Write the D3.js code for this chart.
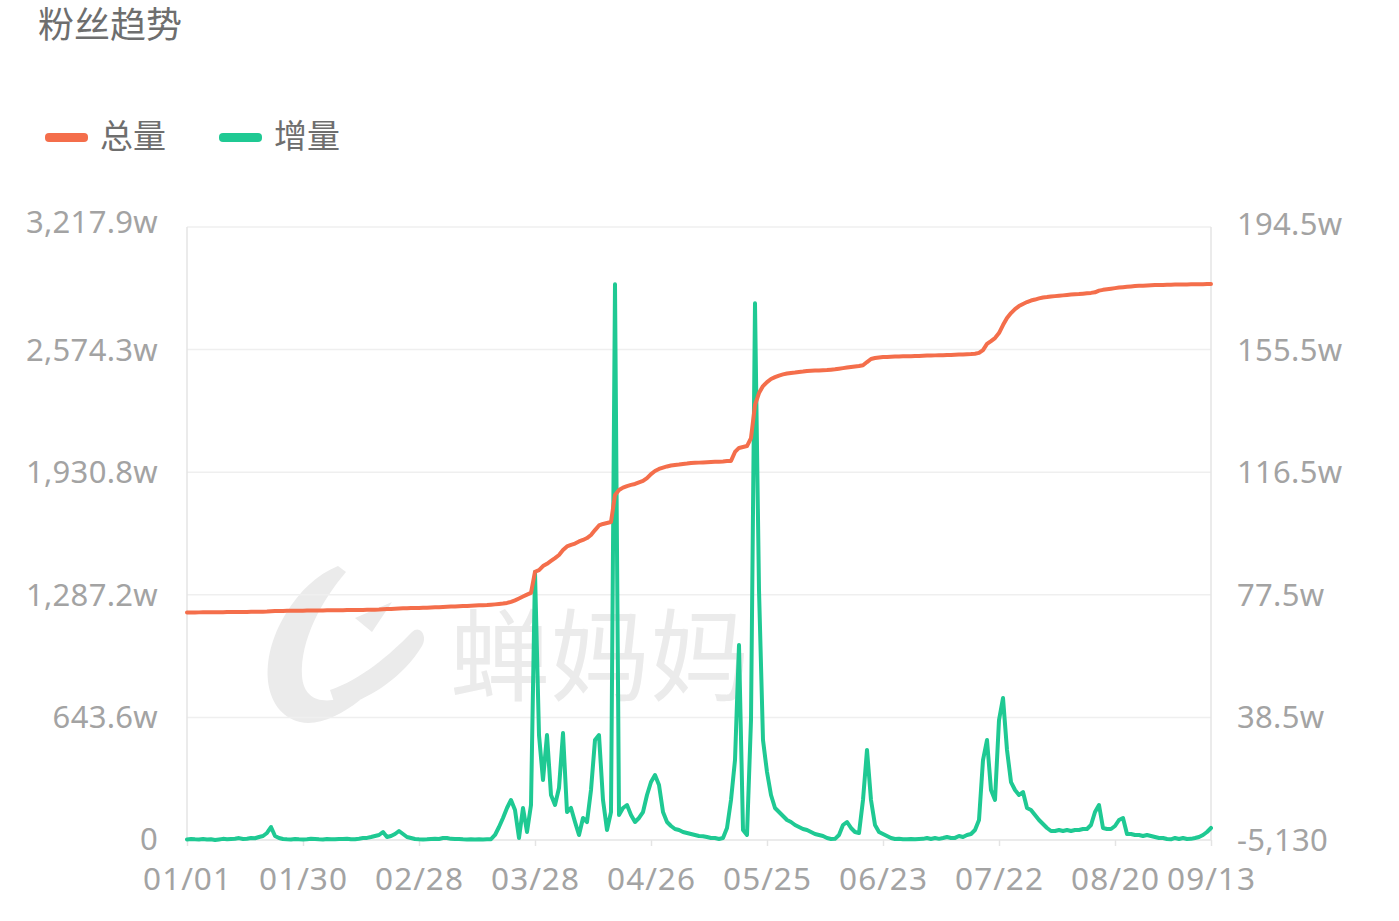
<!DOCTYPE html>
<html><head><meta charset="utf-8">
<script src="https://cdn.jsdelivr.net/npm/d3@7/dist/d3.min.js"></script>
<style>html,body{margin:0;padding:0;background:#fff;} svg{display:block;}</style>
</head><body><svg id="chart" width="1399" height="921"></svg>
<script>
// ---- data (values in 万 / w) ----
const startDate = "2024-01-01";
const endDate = "2024-09-13";
const seriesNames = ["总量", "增量"];
const xTickLabels = ["01/01","01/30","02/28","03/28","04/26","05/25","06/23","07/22","08/20","09/13"];
const leftTickValues = [0, 643.58, 1287.16, 1930.74, 2574.32, 3217.9];
const leftTickLabels = ["0","643.6w","1,287.2w","1,930.8w","2,574.3w","3,217.9w"];
const rightTickValues = [-0.513, 38.487, 77.487, 116.487, 155.487, 194.487];
const rightTickLabels = ["-5,130","38.5w","77.5w","116.5w","155.5w","194.5w"];

const totalFans = [
1194.2,1194.5,1194.6,1194.9,1195.1,1195.3,1195.4,1195.8,1196.0,1196.1,1196.4,
1196.6,1196.9,1197.0,1197.3,1197.5,1197.8,1198.0,1198.3,1198.5,1198.9,
1201.0,1202.1,1202.4,1202.7,1203.0,1203.2,1203.5,1203.7,1204.0,1204.2,
1204.5,1204.7,1205.0,1205.2,1205.5,1205.7,1206.0,1206.2,1206.5,1206.8,
1207.0,1207.3,1207.6,1207.9,1208.1,1208.4,1208.8,1209.6,1211.0,1212.2,
1212.9,1213.8,1215.1,1216.0,1216.8,1217.3,1217.7,1218.1,1218.6,1219.1,
1220.2,1221.3,1222.4,1223.5,1224.5,1225.4,1226.3,1227.2,1228.1,1229.0,
1229.9,1230.8,1231.7,1232.6,1233.5,1235.0,1236.9,1238.8,1241.0,1244.5,
1250,1258,1268,1278,1288,1297,1408,1417,1438,1450,
1465,1480,1496,1522,1541,1549,1556,1567,1575,1585,
1601,1627,1651,1659,1664,1669,1811,1837,1850,1858,
1864,1869,1877,1885,1900,1921,1937,1948,1955,1961,
1966,1969,1971,1974,1976,1979,1980,1981,1982,1983,
1984,1985,1986,1987,1989,1990,2037,2058,2063,2068,
2110,2284,2346,2383,2404,2420,2430,2438,2444,2449,
2452,2454,2457,2459,2462,2463,2464,2465,2466,2467,
2469,2471,2474,2477,2480,2483,2486,2488,2492,2509,
2525,2530,2533,2535,2536,2537,2538,2538,2539,2540,
2540,2541,2541,2542,2543,2543,2544,2545,2545,2546,
2546,2547,2548,2549,2550,2551,2553,2557,2572,2604,
2619,2635,2661,2703,2740,2766,2787,2803,2814,2824,
2832,2837,2843,2848,2850,2853,2855,2857,2859,2861,
2863,2865,2866,2868,2870,2872,2875,2884,2888,2891,
2894,2897,2900,2902,2904,2906,2908,2909,2910,2911,
2912,2913,2913.5,2914,2914.5,2915,2915.5,2916,2916,2916.5,
2917,2917.5,2918,2918,2918.5,2919
];

const newFans = [
-0.35,-0.19,-0.3,-0.32,-0.2,-0.38,-0.29,-0.513,-0.33,-0.15,
-0.28,-0.18,-0.12,0.1,-0.2,-0.1,0.13,0.05,0.44,0.76,
1.72,3.62,0.76,0.13,-0.19,-0.3,-0.35,-0.2,-0.28,-0.33,
-0.3,-0.15,-0.22,-0.31,-0.36,-0.18,-0.3,-0.27,-0.16,-0.2,
-0.12,-0.3,-0.25,-0.1,0.1,0.15,0.44,0.76,1.08,2.03,
0.44,0.76,1.40,2.35,1.40,0.44,0.13,-0.19,-0.3,-0.33,
-0.28,-0.2,-0.15,-0.18,0.1,0.13,-0.15,-0.2,-0.19,-0.3,
-0.35,-0.3,-0.32,-0.28,-0.33,-0.3,-0.25,1.08,3.62,6.49,
9.67,12.21,9.03,0.13,9.67,2.03,10.62,84.71,32.88,18.57,
32.88,13.80,10.62,16.03,33.51,8.39,9.67,5.21,1.08,6.49,
5.21,15.39,31.29,32.88,12.21,2.67,8.39,176.30,7.44,9.67,
10.62,7.44,5.21,6.49,8.39,13.80,17.93,20.16,16.98,8.39,
5.21,3.94,2.99,2.67,2.03,1.72,1.40,1.08,0.76,0.70,
0.44,0.13,0.10,-0.19,0.13,3.31,12.21,24.93,61.50,2.67,
1.08,37.65,170.26,78.99,31.29,21.11,13.80,9.67,8.39,7.12,
5.85,5.21,4.26,3.62,2.99,2.67,2.03,1.40,1.08,0.76,
0.13,-0.19,-0.15,1.08,4.26,5.21,3.31,2.03,1.72,12.21,
28.11,12.21,4.26,2.03,1.40,0.76,0.13,-0.19,-0.15,-0.3,
-0.28,-0.2,-0.3,-0.18,-0.15,0.13,-0.19,0.1,-0.15,0.13,
0.44,0.13,0.15,0.76,0.44,1.08,1.40,2.67,5.85,24.93,
31.29,15.39,12.21,37.65,44.65,28.11,17.93,15.39,13.80,14.75,
9.67,9.03,7.44,5.85,4.58,3.31,2.35,2.35,2.67,2.35,
2.67,2.35,2.67,2.67,2.99,2.99,4.26,8.39,10.62,3.31,
2.99,2.99,3.94,5.85,6.49,1.40,1.40,1.08,1.08,0.76,
1.08,0.76,0.44,0.13,0.13,-0.19,-0.3,0.13,-0.19,0.13,
-0.19,-0.15,0.13,0.44,1.08,2.03,3.31
];

// ---- drawing ----
const W = 1399, H = 921;
const plot = {left: 187, right: 1211, top: 227, bottom: 840};
const colors = {total: "#f46e4b", inc: "#1fc993", label: "#a3a3a3", grid: "#efefef", axis: "#e4e4e4", text: "#6e6e6e"};
const FONT = "'Noto Sans', 'Noto Sans CJK SC', sans-serif";

const parse = d3.timeParse("%Y-%m-%d");
const t0 = parse(startDate), t1 = parse(endDate);
const dates = d3.timeDay.range(t0, d3.timeDay.offset(t1, 1));

const x = d3.scaleTime().domain([t0, t1]).range([plot.left, plot.right]);
const yL = d3.scaleLinear().domain([0, 3217.9]).range([plot.bottom, plot.top]);
const yR = d3.scaleLinear().domain([-0.513, 194.487]).range([plot.bottom, plot.top]);

const svg = d3.select("#chart");
svg.append("rect").attr("width", W).attr("height", H).attr("fill", "#fff");

// watermark
const wm = svg.append("g").attr("fill", "#ebebeb");
wm.append("path").attr("d",
  "M300,722 C262,712 258,660 285,615 C300,590 318,574 338,566 L346,572 C322,600 300,640 302,676 C304,702 326,706 352,694 L360,700 C340,716 318,726 300,722 Z" +
  " M330,690 C360,680 390,655 412,632 C420,624 428,636 422,646 C404,676 370,700 336,708 Z" +
  " M355,618 L392,602 L372,632 Z");
wm.append("text").attr("x", 450).attr("y", 693)
  .attr("font-family", "'Noto Sans CJK SC', sans-serif").attr("font-size", 100)
  .attr("fill", "#ebebeb").text("蝉妈妈");

// gridlines
svg.append("g").selectAll("line").data(leftTickValues.slice(1)).join("line")
  .attr("x1", plot.left).attr("x2", plot.right)
  .attr("y1", d => yL(d)).attr("y2", d => yL(d))
  .attr("stroke", colors.grid).attr("stroke-width", 1.5);

// axes frame
svg.append("line").attr("x1", plot.left).attr("x2", plot.left).attr("y1", plot.top).attr("y2", plot.bottom)
  .attr("stroke", colors.axis).attr("stroke-width", 1.5);
svg.append("line").attr("x1", plot.right).attr("x2", plot.right).attr("y1", plot.top).attr("y2", plot.bottom)
  .attr("stroke", colors.axis).attr("stroke-width", 1.5);
svg.append("line").attr("x1", plot.left).attr("x2", plot.right).attr("y1", plot.bottom).attr("y2", plot.bottom)
  .attr("stroke", colors.axis).attr("stroke-width", 1.5);

// x axis ticks + labels
const xTickDates = xTickLabels.map(s => parse("2024-" + s.replace("/", "-")));
const xAxis = d3.axisBottom(x).tickValues(xTickDates)
  .tickFormat((d, i) => xTickLabels[i]).tickSize(6).tickPadding(10);
const gx = svg.append("g").attr("transform", `translate(0,${plot.bottom})`).call(xAxis);
gx.select(".domain").remove();
gx.selectAll(".tick line").attr("stroke", colors.axis).attr("stroke-width", 1.5);
gx.selectAll(".tick text").attr("fill", colors.label).attr("font-family", FONT).attr("font-size", 31.5)
  .attr("letter-spacing", 1).attr("y", 49.5).attr("dy", 0);

// left axis
const yAxisL = d3.axisLeft(yL).tickValues(leftTickValues)
  .tickFormat((d, i) => leftTickLabels[i]).tickSize(0).tickPadding(29);
const gl = svg.append("g").attr("transform", `translate(${plot.left},0)`).call(yAxisL);
gl.select(".domain").remove();
gl.selectAll(".tick text").attr("fill", colors.label).attr("font-family", FONT).attr("font-size", 31)
  .attr("letter-spacing", 0.3).attr("dy", "0.34em");
gl.selectAll(".tick").filter((d, i) => i === leftTickValues.length - 1).select("text").attr("dy", "0.18em");
gl.selectAll(".tick").filter((d, i) => i === 0).select("text").attr("dy", "0.3em");

// right axis
const yAxisR = d3.axisRight(yR).tickValues(rightTickValues)
  .tickFormat((d, i) => rightTickLabels[i]).tickSize(0).tickPadding(26);
const gr = svg.append("g").attr("transform", `translate(${plot.right},0)`).call(yAxisR);
gr.select(".domain").remove();
gr.selectAll(".tick text").attr("fill", colors.label).attr("font-family", FONT).attr("font-size", 31)
  .attr("letter-spacing", 0.3).attr("dy", "0.34em");
gr.selectAll(".tick").filter((d, i) => i === rightTickValues.length - 1).select("text").attr("dy", "0.24em");

// lines
const lineTotal = d3.line().x((d, i) => x(dates[i])).y(d => yL(d));
const lineInc = d3.line().x((d, i) => x(dates[i])).y(d => yR(d));
svg.append("path").datum(newFans).attr("d", lineInc).attr("fill", "none")
  .attr("stroke", colors.inc).attr("stroke-width", 4).attr("stroke-linejoin", "round").attr("stroke-linecap", "round");
svg.append("path").datum(totalFans).attr("d", lineTotal).attr("fill", "none")
  .attr("stroke", colors.total).attr("stroke-width", 4).attr("stroke-linejoin", "round").attr("stroke-linecap", "round");

// title
svg.append("text").attr("x", 38).attr("y", 38).attr("font-family", "'Noto Sans CJK SC', sans-serif")
  .attr("font-size", 36).attr("fill", colors.text).text("粉丝趋势");

// legend
const legend = [{name: seriesNames[0], color: colors.total, x: 45}, {name: seriesNames[1], color: colors.inc, x: 219}];
const lg = svg.append("g");
legend.forEach(l => {
  lg.append("rect").attr("x", l.x).attr("y", 133).attr("width", 43).attr("height", 9).attr("rx", 4)
    .attr("fill", l.color);
  lg.append("text").attr("x", l.x + 55).attr("y", 148).attr("font-family", "'Noto Sans CJK SC', sans-serif")
    .attr("font-size", 33).attr("fill", colors.text).text(l.name);
});
</script>
</body></html>
